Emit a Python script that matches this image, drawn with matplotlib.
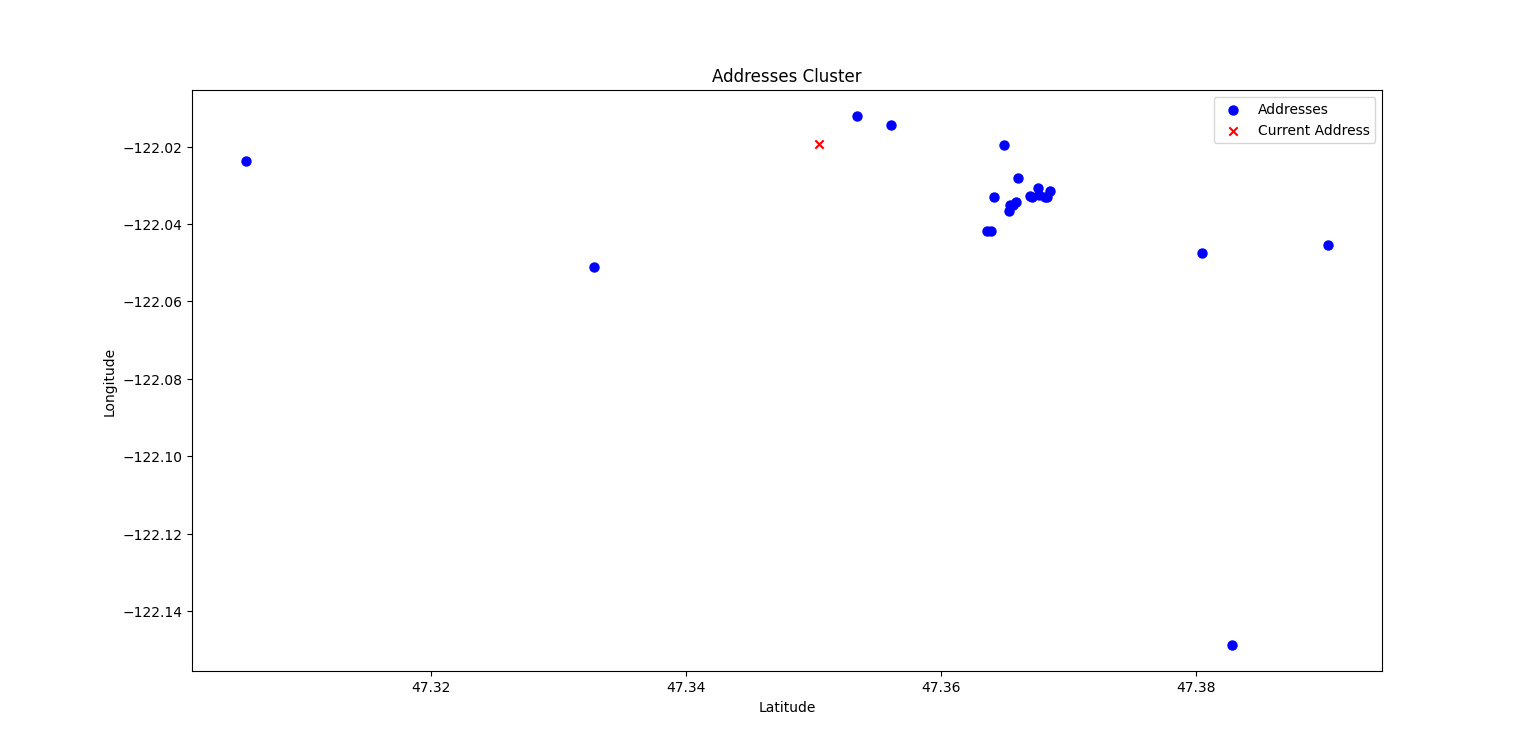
import matplotlib
matplotlib.use("Agg")
import matplotlib.pyplot as plt

lat = [47.30549, 47.33278, 47.35341, 47.35608, 47.36494, 47.36604, 47.36416, 47.36541, 47.36533, 47.36565, 47.36588,
       47.36698, 47.36714, 47.36761, 47.36769, 47.36816, 47.36831, 47.36855, 47.36361, 47.36392,
       47.38047, 47.39035, 47.38282]
lon = [-122.0238, -122.0512, -122.0122, -122.0143, -122.0195, -122.0280, -122.0329, -122.0352, -122.0366, -122.0350, -122.0343,
       -122.0327, -122.0329, -122.0306, -122.0326, -122.0329, -122.0329, -122.0314, -122.0417, -122.0417,
       -122.0474, -122.0453, -122.1487]
cur_lat = [47.35043]
cur_lon = [-122.0192]

fig, ax = plt.subplots(figsize=(15.36, 7.545), dpi=100)
ax.scatter(lat, lon, c="blue", s=42, label="Addresses")
ax.scatter(cur_lat, cur_lon, c="red", marker="x", label="Current Address")
ax.set_title("Addresses Cluster")
ax.set_xlabel("Latitude")
ax.set_ylabel("Longitude")
ax.legend(loc="upper right")
fig.savefig("out.png", dpi=100)
